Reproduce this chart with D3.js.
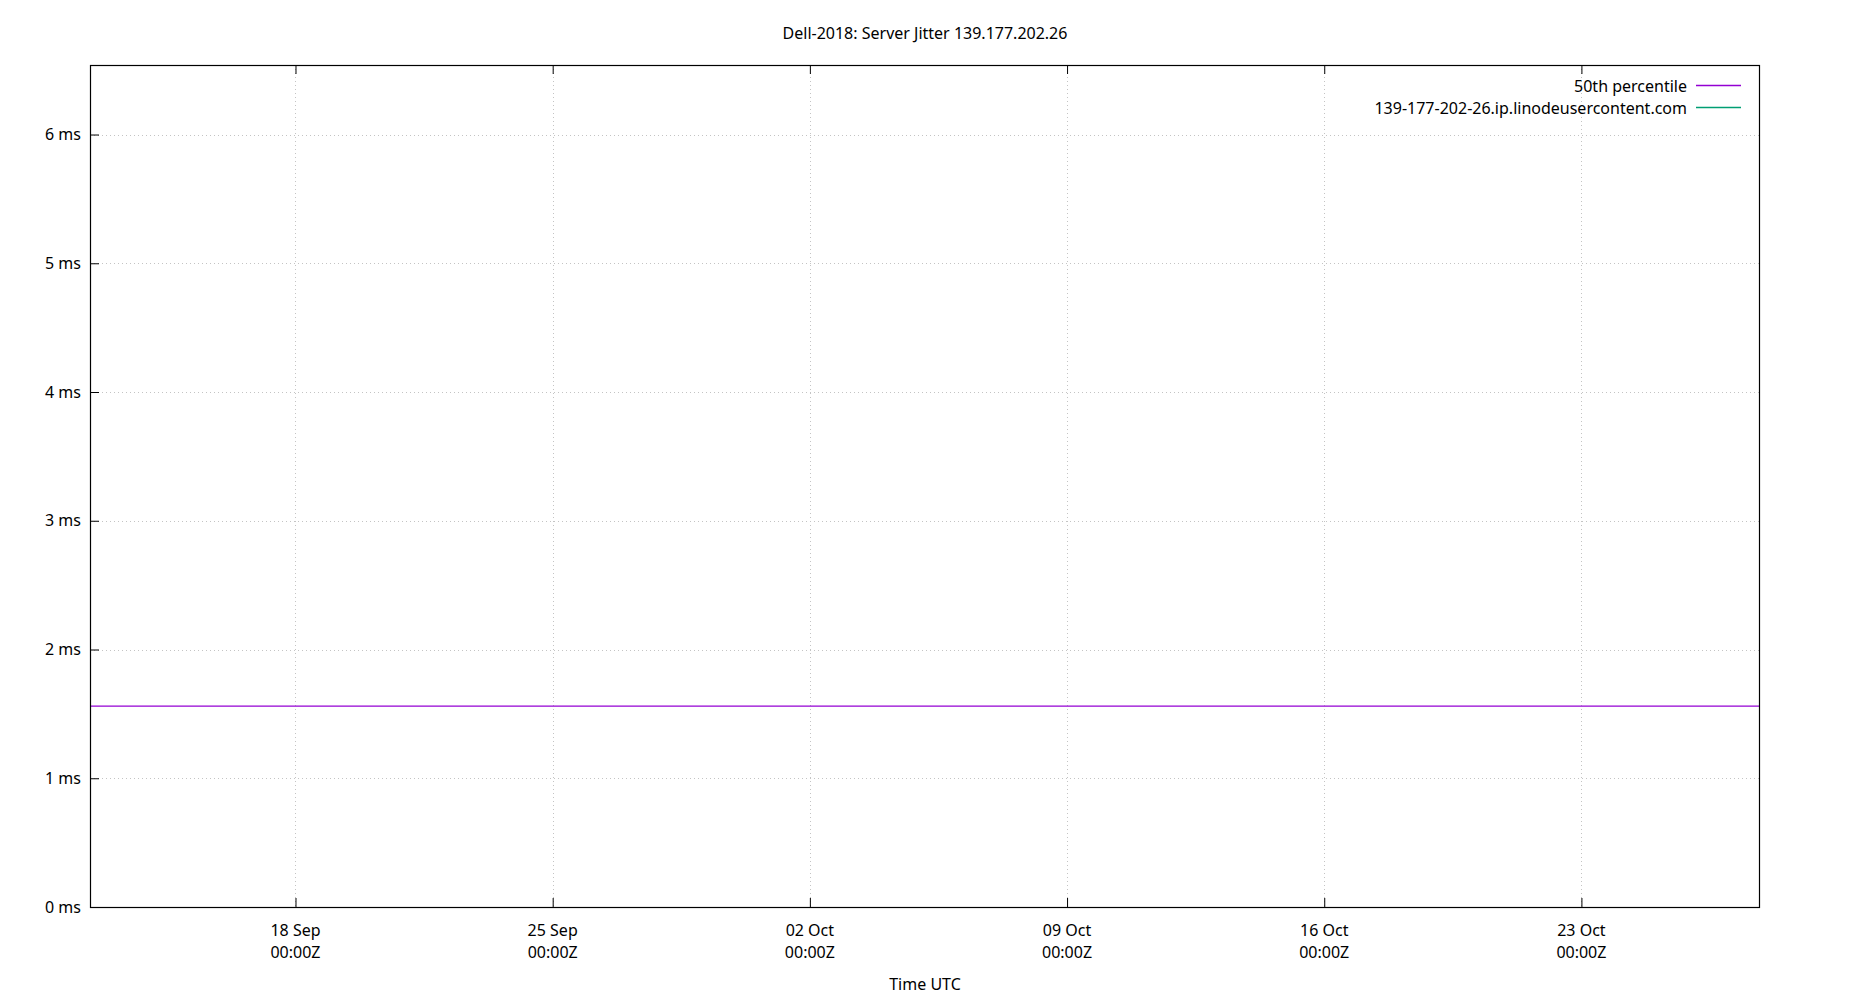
<!DOCTYPE html>
<html>
<head>
<meta charset="utf-8">
<script src="https://cdn.jsdelivr.net/npm/d3@7"></script>
<style>
  html, body { margin: 0; padding: 0; background: #fff; }
  svg { display: block; font-family: "Noto Sans", "Open Sans", sans-serif; }
</style>
</head>
<body>
<svg id="chart" width="1850" height="1000"></svg>
<script>
// ---- data ----
const chartTitle = "Dell-2018: Server Jitter 139.177.202.26";
const xAxisLabel = "Time UTC";
const seriesNames = ["50th percentile", "139-177-202-26.ip.linodeusercontent.com"];
const seriesColors = ["#9400d3", "#009e73"];
const xDomain = ["2024-09-12T09:46:00Z", "2024-10-27T20:00:00Z"];
const yDomain = [0, 6.54];
const p50Times = ["2024-09-12T09:46:00Z", "2024-10-27T20:00:00Z"];
const p50Values = [1.56, 1.56];
const serverTimes = [];
const serverValues = [];
const xTickDates = ["2024-09-18T00:00:00Z", "2024-09-25T00:00:00Z", "2024-10-02T00:00:00Z",
                    "2024-10-09T00:00:00Z", "2024-10-16T00:00:00Z", "2024-10-23T00:00:00Z"];
const yTickValues = [0, 1, 2, 3, 4, 5, 6];

// ---- layout ----
const W = 1850, H = 1000;
const m = { left: 90, right: 1759, top: 65, bottom: 907 };
const svg = d3.select("#chart");

const x = d3.scaleUtc().domain(xDomain.map(d => new Date(d))).range([m.left, m.right]);
const y = d3.scaleLinear().domain(yDomain).range([m.bottom, m.top]);

const fmtDay = d3.utcFormat("%d %b");
const fmtTime = d3.utcFormat("%H:%MZ");
const xTicks = xTickDates.map(d => new Date(d));

// grid
const grid = svg.append("g").attr("stroke", "#c4c4c4").attr("stroke-width", 1)
  .attr("stroke-dasharray", "1,3").attr("fill", "none");
grid.selectAll(".vg").data(xTicks).join("line")
  .attr("x1", d => Math.round(x(d)) + 0.5).attr("x2", d => Math.round(x(d)) + 0.5)
  .attr("y1", m.top).attr("y2", m.bottom);
grid.selectAll(".hg").data(yTickValues.filter(v => v > 0)).join("line")
  .attr("x1", m.left).attr("x2", m.right)
  .attr("y1", d => Math.round(y(d)) + 0.5).attr("y2", d => Math.round(y(d)) + 0.5);

// series
const line = d3.line().x(d => x(d.t)).y(d => y(d.v));
const p50 = p50Times.map((t, i) => ({ t: new Date(t), v: p50Values[i] }));
const srv = serverTimes.map((t, i) => ({ t: new Date(t), v: serverValues[i] }));
svg.append("path").datum(p50).attr("d", line).attr("fill", "none")
  .attr("stroke", seriesColors[0]).attr("stroke-width", 1.3);
if (srv.length) {
  svg.append("path").datum(srv).attr("d", line).attr("fill", "none")
    .attr("stroke", seriesColors[1]).attr("stroke-width", 1.3);
}

// axes (ticks inward)
const yAxis = d3.axisLeft(y).tickValues(yTickValues).tickFormat(d => d + " ms").tickSizeInner(-9).tickSizeOuter(0).tickPadding(9);
const gy = svg.append("g").attr("transform", `translate(${m.left},0)`).call(yAxis);
gy.select(".domain").remove();
gy.selectAll("text").attr("font-size", 16).attr("fill", "#000").attr("font-family", "Noto Sans");
gy.selectAll("line").attr("stroke", "#000");

const xAxisB = d3.axisBottom(x).tickValues(xTicks).tickFormat("").tickSizeInner(-9).tickSizeOuter(0);
const gxb = svg.append("g").attr("transform", `translate(0,${m.bottom})`).call(xAxisB);
gxb.select(".domain").remove();
gxb.selectAll("line").attr("stroke", "#000");
const xAxisT = d3.axisTop(x).tickValues(xTicks).tickFormat("").tickSizeInner(-9).tickSizeOuter(0);
const gxt = svg.append("g").attr("transform", `translate(0,${m.top})`).call(xAxisT);
gxt.select(".domain").remove();
gxt.selectAll("line").attr("stroke", "#000");

// x tick labels (two lines)
const xl = svg.append("g").attr("font-size", 16).attr("fill", "#000").attr("text-anchor", "middle");
xl.selectAll(".d").data(xTicks).join("text")
  .attr("x", d => x(d)).attr("y", 930).attr("dominant-baseline", "central").text(d => fmtDay(d));
xl.selectAll(".t").data(xTicks).join("text")
  .attr("x", d => x(d)).attr("y", 952).attr("dominant-baseline", "central").text(d => fmtTime(d));

// border
svg.append("rect").attr("x", m.left + 0.5).attr("y", m.top + 0.5)
  .attr("width", m.right - m.left).attr("height", m.bottom - m.top)
  .attr("fill", "none").attr("stroke", "#000").attr("stroke-width", 1.2);

// title & axis label
svg.append("text").attr("x", W / 2).attr("y", 33).attr("text-anchor", "middle")
  .attr("dominant-baseline", "central").attr("font-size", 16).text(chartTitle);
svg.append("text").attr("x", W / 2).attr("y", 984).attr("text-anchor", "middle")
  .attr("dominant-baseline", "central").attr("font-size", 16).text(xAxisLabel);

// legend
const lg = svg.append("g");
seriesNames.forEach((name, i) => {
  const ly = 85.5 + i * 22;
  lg.append("text").attr("x", 1687).attr("y", ly).attr("text-anchor", "end")
    .attr("dominant-baseline", "central").attr("font-size", 16).text(name);
  lg.append("line").attr("x1", 1696).attr("x2", 1741).attr("y1", ly).attr("y2", ly)
    .attr("stroke", seriesColors[i]).attr("stroke-width", 1.3);
});
</script>
</body>
</html>
